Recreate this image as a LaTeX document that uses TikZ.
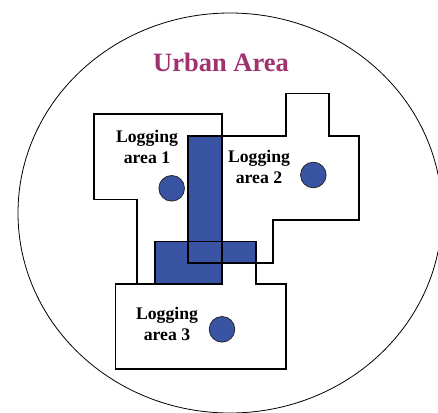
\documentclass[tikz,border=0pt]{standalone}
\usepackage{fontspec}
\setmainfont{Liberation Serif}
\definecolor{overlapblue}{RGB}{58,84,164}
\definecolor{titlepurple}{RGB}{160,50,110}
\tikzset{
  zone/.style={draw=black, line width=1.6pt, line join=miter},
  overlap/.style={fill=overlapblue},
  site/.style={fill=overlapblue, draw=black!85, line width=0.8pt},
  zonelabel/.style={align=center, inner sep=0pt, font=\fontsize{17.7}{21}\selectfont\bfseries},
  titlelabel/.style={inner sep=0pt, text=titlepurple, font=\fontsize{26.5}{30}\selectfont\bfseries}
}
\begin{document}
\begin{tikzpicture}[x=1pt, y=-1pt]
\useasboundingbox (0,0) rectangle (438,412);
\clip (0,0) rectangle (438,412);
\fill[white] (0,0) rectangle (438,412);

% urban boundary
\draw[line width=0.8pt] (230,213) ellipse [x radius=212pt, y radius=200pt];
\node[titlelabel] (title) at (221,62) {Urban Area};

% overlapping parts of the logging areas
\fill[overlap] (188,136) rectangle (222,284);
\fill[overlap] (155,241) rectangle (222,284);
\fill[overlap] (222,241) rectangle (256,262.7);

% logging area 1
\draw[zone] (94,114) -- (222,114) -- (222,284) -- (137,284) -- (137,199.3) -- (94,199.3) -- cycle;
% logging area 2
\draw[zone] (188,135.7) -- (285.7,135.7) -- (285.7,93.3) -- (328.7,93.3) -- (328.7,135.7)
  -- (358.7,135.7) -- (358.7,220) -- (272.7,220) -- (272.7,262.7) -- (188,262.7) -- cycle;
% logging area 3
\draw[zone] (115.3,284) -- (155,284) -- (155,241.3) -- (256,241.3) -- (256,284)
  -- (286,284) -- (286,368.7) -- (115.3,368.7) -- cycle;

% logging sites
\draw[site] (171.7,188.3) circle [radius=12.8pt];
\draw[site] (313.3,175) circle [radius=12.8pt];
\draw[site] (222,329.3) circle [radius=12.8pt];

% labels
\node[zonelabel] (l1) at (147,146.5) {Logging\\area 1};
\node[zonelabel] (l2) at (259,167) {Logging\\area 2};
\node[zonelabel] (l3) at (167,324) {Logging\\area 3};
\end{tikzpicture}
\end{document}
